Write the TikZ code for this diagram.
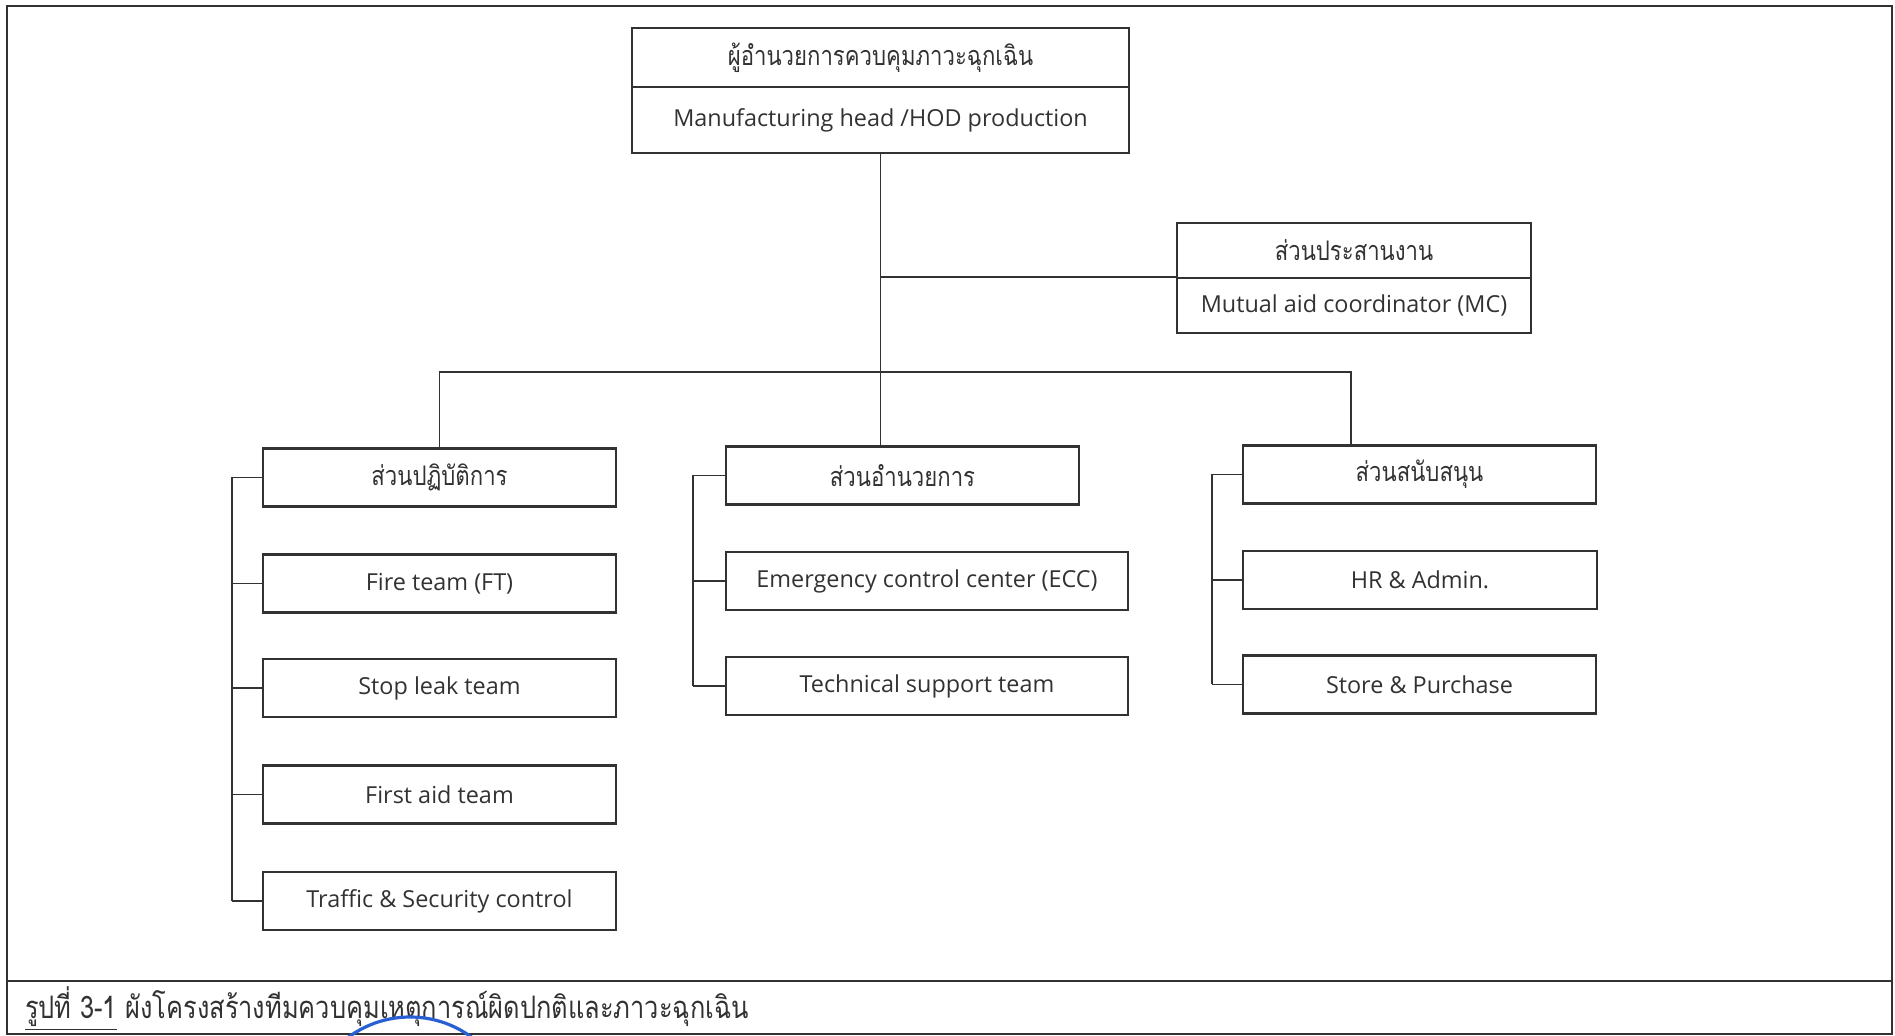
\documentclass[tikz,border=0pt]{standalone}
\usepackage{fontspec}
\setmainfont{Open Sans}
\newfontfamily\thaifont[Script=Thai, FakeStretch=0.82]{Loma}
\usepackage{tikz}

\definecolor{ink}{RGB}{50,50,50}
\definecolor{stampblue}{RGB}{40,95,210}

\tikzset{
  box/.style={draw=ink, line width=1.1pt, inner sep=0pt, minimum height=29pt,
    text=ink, font=\fontsize{11.7}{14}\selectfont},
  thbox/.style={box, font=\thaifont\fontsize{13.5}{16}\selectfont},
  link/.style={draw=ink, line width=0.9pt},
  frame/.style={draw=ink, line width=1pt}
}

\begin{document}
\begin{tikzpicture}[x=0.5pt, y=-0.5pt]
  \useasboundingbox (0,0) rectangle (1895,1036);

  % Page frame and caption row
  \draw[frame] (7,6) rectangle (1892,1034);
  \draw[frame] (7,981) -- (1892,981);
  \node[anchor=west, text=ink, font=\thaifont\fontsize{15.5}{18}\selectfont] (cap) at (18,1009)
    {\underline{รูปที่ 3-1} ผังโครงสร้างทีมควบคุมเหตุการณ์ผิดปกติและภาวะฉุกเฉิน};

  % Head
  \node[thbox, minimum width=248.5pt, minimum height=29.5pt] (topTh) at (880.5,57.5) {ผู้อำนวยการควบคุมภาวะฉุกเฉิน};
  \node[box, minimum width=248.5pt, minimum height=33pt] (topEn) at (880.5,120) {Manufacturing head /HOD production};

  % Coordinator
  \node[thbox, minimum width=177pt, minimum height=27.5pt] (mcTh) at (1354,250.5) {ส่วนประสานงาน};
  \node[box, minimum width=177pt, minimum height=27.5pt] (mcEn) at (1354,305.5) {Mutual aid coordinator (MC)};

  % Operations
  \node[thbox, minimum width=176.5pt] (ops) at (439.5,477.5) {ส่วนปฏิบัติการ};
  \foreach \n/\y/\t in {ft/583.5/Fire team (FT), sl/688/Stop leak team,
      fa/794.5/First aid team, tsc/901/Traffic \& Security control} {
    \node[box, minimum width=176.5pt] (\n) at (439.5,\y) {\t};
  }

  % Command
  \node[thbox, minimum width=176.5pt] (cmd) at (902.5,475.5) {ส่วนอำนวยการ};
  \node[box, minimum width=201pt] (ecc) at (927,581) {Emergency control center (ECC)};
  \node[box, minimum width=201pt] (tst) at (927,686) {Technical support team};

  % Support
  \node[thbox, minimum width=176.5pt] (sup) at (1419.5,474.5) {ส่วนสนับสนุน};
  \node[box, minimum width=177pt] (hr) at (1420,580) {HR \& Admin.};
  \node[box, minimum width=176.5pt] (sp) at (1419.5,684.5) {Store \& Purchase};

  % Trunk, coordinator branch and bus
  \coordinate (busR) at (1351,372);
  \draw[link] (topEn.south) -- (topEn.south |- cmd.north);
  \draw[link] (mcEn.north west) -- (mcEn.north west -| topEn.south);
  \draw[link] (ops.north) |- (busR) -- (busR |- sup.north);

  % Side brackets
  \foreach \n in {ops,ft,sl,fa,tsc} \draw[link] (\n.west) -- ++(-30,0);
  \draw[link] ([xshift=-15pt]ops.west) -- ([xshift=-15pt]tsc.west);
  \foreach \n in {cmd,ecc,tst} \draw[link] (\n.west) -- ++(-32,0);
  \draw[link] ([xshift=-16pt]cmd.west) -- ([xshift=-16pt]tst.west);
  \foreach \n in {sup,hr,sp} \draw[link] (\n.west) -- ++(-30,0);
  \draw[link] ([xshift=-15pt]sup.west) -- ([xshift=-15pt]sp.west);

  % Stamp edge
  \begin{scope}
    \clip (0,0) rectangle (1895,1036);
    \draw[stampblue, line width=1.6pt] (410,1121) circle [radius=104];
  \end{scope}
\end{tikzpicture}
\end{document}
